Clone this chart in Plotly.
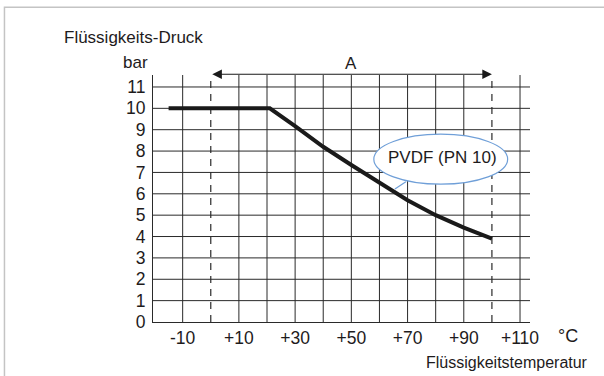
import plotly.graph_objects as go

# ---- data ----
temps = [-15, 21, 30, 40, 50, 60, 70, 80, 90, 100]
pressure = [10, 10, 9.17, 8.2, 7.35, 6.5, 5.7, 5.0, 4.42, 3.9]

x_tick_vals = [-10, 10, 30, 50, 70, 90, 110]
x_tick_text = ["-10", "+10", "+30", "+50", "+70", "+90", "+110"]
y_tick_vals = list(range(0, 12))
x_grid_solid = [-10, 10, 20, 30, 40, 50, 60, 70, 80, 90, 110]
x_grid_dashed = [0, 100]
y_grid = list(range(1, 12))
range_A = [0, 100]
series_label = "PVDF (PN 10)"

FONT = "Liberation Sans, Arial, sans-serif"
TXT = "#1e1b1c"
GRID = "#2a2a2a"
BLUE = "#6f9fd8"

X_RANGE = [-20.55, 113.55]
Y_RANGE = [0, 11.56]

fig = go.Figure()

fig.add_trace(go.Scatter(
    x=temps, y=pressure, mode="lines",
    line=dict(color="#1a1a1a", width=4), showlegend=False,
    hoverinfo="skip",
))

shapes = []
for xv in x_grid_solid:
    shapes.append(dict(type="line", xref="x", yref="paper", x0=xv, x1=xv,
                       y0=0, y1=1,
                       line=dict(color=GRID, width=1), layer="below"))
for xv in x_grid_dashed:
    shapes.append(dict(type="line", xref="x", yref="paper", x0=xv, x1=xv,
                       y0=0, y1=1,
                       line=dict(color=GRID, width=1.2, dash="7px,6px"), layer="below"))
for yv in y_grid:
    shapes.append(dict(type="line", xref="paper", yref="y", x0=0, x1=1,
                       y0=yv, y1=yv,
                       line=dict(color=GRID, width=1), layer="below"))
# callout ellipse
shapes.append(dict(type="circle", xref="x", yref="y", x0=58.0, x1=105.6, y0=6.45, y1=8.79,
                   line=dict(color=BLUE, width=1.2), fillcolor="white", layer="above"))
# leader line
shapes.append(dict(type="line", xref="x", yref="y", x0=69.4, y0=6.56, x1=65.5, y1=6.22,
                   line=dict(color=BLUE, width=1.2), layer="above"))
# outer frame
shapes.append(dict(type="rect", xref="paper", yref="paper", x0=-0.394, x1=1.5, y0=-0.5, y1=1.274,
                   line=dict(color="#c4c4c4", width=1.5), fillcolor="rgba(0,0,0,0)", layer="below"))

annotations = [
    dict(text=series_label, x=82.3, y=7.71, xref="x", yref="y", showarrow=False,
         font=dict(size=17, color=TXT, family=FONT)),
    # range arrow A
    dict(text="", x=range_A[1], y=1.003, ax=range_A[0], ay=0, xref="x", yref="paper",
         axref="x", ayref="pixel", showarrow=True, arrowhead=2, startarrowhead=2,
         arrowside="end+start", arrowsize=1.6, startarrowsize=1.6, arrowwidth=1.2,
         arrowcolor="#1a1a1a", standoff=0, startstandoff=0),
    dict(text="A", x=(range_A[0] + range_A[1]) / 2, y=1.045, xref="x", yref="paper",
         yanchor="middle", showarrow=False,
         font=dict(size=17, color=TXT, family=FONT)),
    dict(text="Flüssigkeits-Druck", x=-0.242, y=1.1506, xref="paper", yref="paper",
         xanchor="left", yanchor="middle", showarrow=False,
         font=dict(size=17, color=TXT, family=FONT)),
    dict(text="bar", x=-0.008, y=1.0526, xref="paper", yref="paper",
         xanchor="right", yanchor="middle", showarrow=False,
         font=dict(size=17, color=TXT, family=FONT)),
    dict(text="°C", x=1.069, y=-0.055, xref="paper", yref="paper",
         xanchor="left", yanchor="middle", showarrow=False,
         font=dict(size=18, color=TXT, family=FONT)),
    dict(text="Flüssigkeitstemperatur", x=1.159, y=-0.163, xref="paper", yref="paper",
         xanchor="right", yanchor="middle", showarrow=False,
         font=dict(size=16, color=TXT, family=FONT)),
]

fig.update_layout(
    width=604, height=376,
    margin=dict(l=153, r=74, t=75, b=54),
    paper_bgcolor="white", plot_bgcolor="white",
    shapes=shapes, annotations=annotations,
    showlegend=False,
    xaxis=dict(range=X_RANGE, tickvals=x_tick_vals, ticktext=x_tick_text,
               showgrid=False, zeroline=False, showline=True, linecolor=GRID, linewidth=1.2,
               ticks="", tickfont=dict(size=17.5, color=TXT, family=FONT), fixedrange=True,
               automargin=False),
    yaxis=dict(range=Y_RANGE, tickvals=y_tick_vals,
               showgrid=False, zeroline=False, showline=True, linecolor=GRID, linewidth=1.2,
               ticks="", ticklabelstandoff=3,
               tickfont=dict(size=17.5, color=TXT, family=FONT), fixedrange=True,
               automargin=False),
)

fig.write_html("out.html", config={"displayModeBar": False},
               post_script="document.body.style.margin='0';document.body.style.overflow='hidden';")
